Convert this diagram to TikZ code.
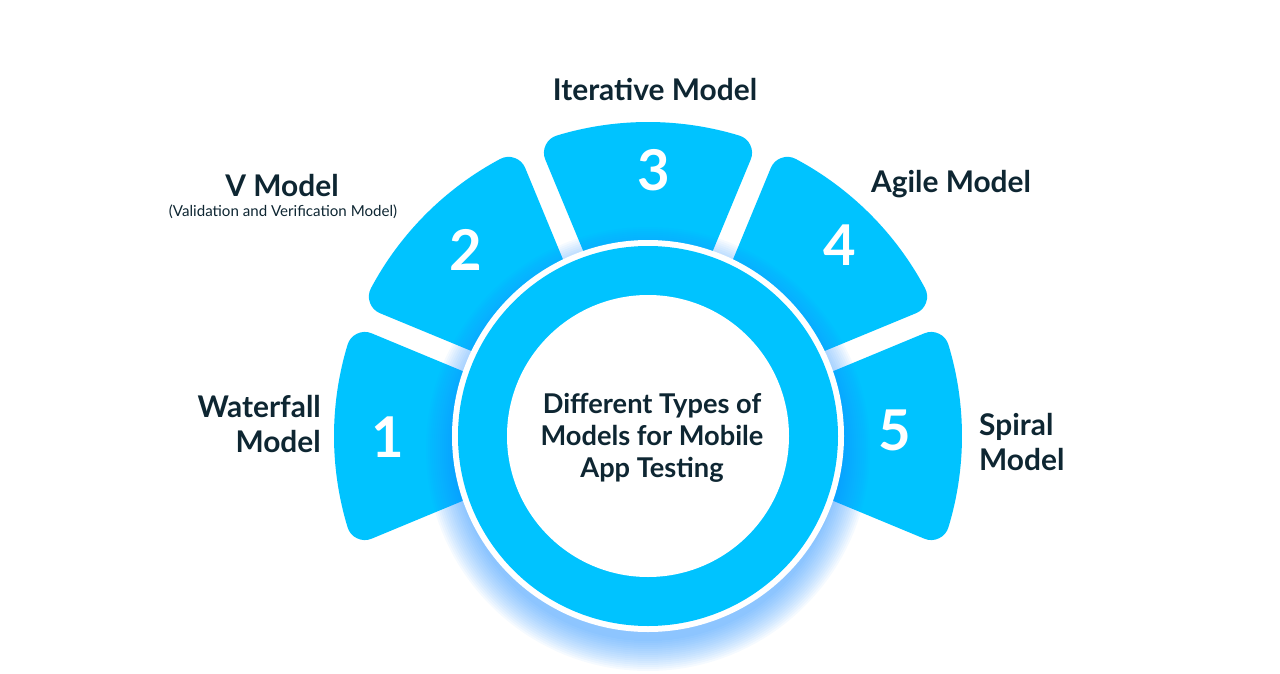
\documentclass[tikz,border=0pt]{standalone}
\usepackage{fontspec}
\setmainfont{Lato}
\usetikzlibrary{calc}
\definecolor{segblue}{RGB}{0,195,255}
\definecolor{glowblue}{RGB}{30,140,255}
\definecolor{inkdark}{RGB}{14,38,50}

\begin{document}
\begin{tikzpicture}[x=0.02cm,y=0.02cm,
  seg/.style={fill=segblue,draw=segblue,line width=0.72cm,line join=round},
  num/.style={text=white,font=\bfseries\fontsize{32}{32}\selectfont},
  lbl/.style={text=inkdark,font=\bfseries\fontsize{17}{19.5}\selectfont}]
\useasboundingbox (-648,-237) rectangle (632,436);
% five segments behind the ring
\foreach \a in {180,135,90,45,0}
  \filldraw[seg] ($(\a+22.5:150)+(\a-67.5:29)$) -- (\a+16.9:296)
    arc[start angle=\a+16.9,end angle=\a-16.9,radius=296]
    -- ($(\a-22.5:150)+(\a+67.5:29)$) -- cycle;
% glow under the ring
\foreach \i in {1,...,16}
  \fill[glowblue,opacity=0.042] (0,-13) circle ({190+2*\i});
\fill[white] (0,0) circle (196);
\fill[segblue] (0,0) circle (190);
\fill[white] (0,0) circle (141);
% numbers
\node[num] (n1) at (-260,-1) {1};
\node[num] (n2) at (-182,186) {2};
\node[num] (n3) at (6,266) {3};
\node[num] (n4) at (192,191) {4};
\node[num] (n5) at (247,6) {5};
\node[lbl,align=center,font=\bfseries\fontsize{15.5}{18.2}\selectfont] (title) at (4,-2)
  {Different Types of\\Models for Mobile\\App Testing};
\node[lbl] (iter) at (7,346) {Iterative Model};
\node[lbl] (vmod) at (-366,250) {V Model};
\node[text=inkdark,font=\fontsize{8.6}{10}\selectfont] (vsub) at (-365,224)
  {(Validation and Verification Model)};
\node[lbl] (agile) at (303,252) {Agile Model};
\node[lbl,align=right,anchor=east] (water) at (-321,12) {Waterfall\\Model};
\node[lbl,align=left,anchor=west] (spiral) at (325,-6) {Spiral\\Model};
\end{tikzpicture}
\end{document}
